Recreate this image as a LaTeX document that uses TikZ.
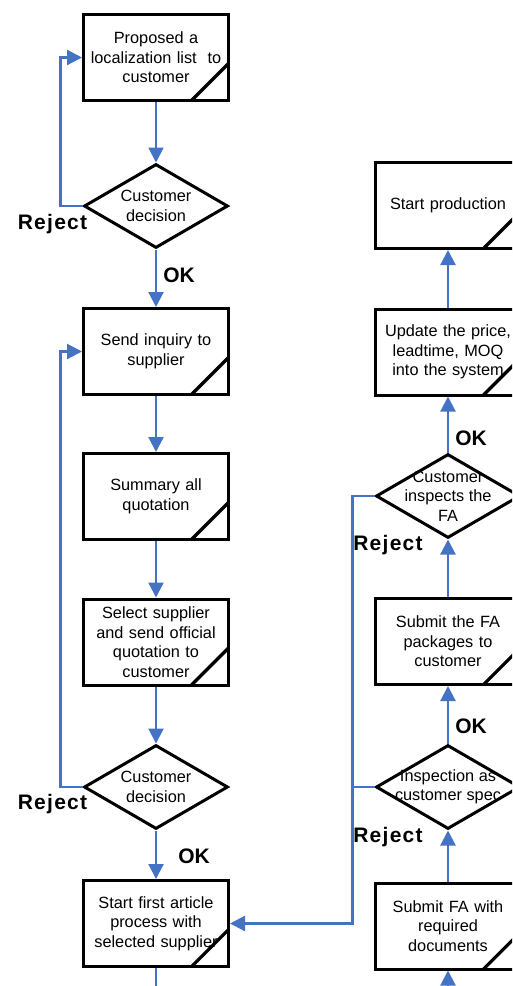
\documentclass[tikz,border=0pt]{standalone}
\usepackage{fontspec}
\setmainfont{Liberation Sans}
\usetikzlibrary{shapes.geometric,arrows.meta}
\definecolor{flowblue}{RGB}{68,114,196}
\begin{document}
\begin{tikzpicture}[x=1pt,y=-1pt,
  font=\fontsize{16.3}{19.5}\selectfont,
  stepbox/.style={draw=black, line width=3pt, fill=white,
    minimum width=145pt, minimum height=86pt, inner sep=2pt,
    text width=140pt, align=center,
    path picture={\draw[line width=3.2pt]
      ([xshift=-37pt]path picture bounding box.south east) --
      ([yshift=37pt]path picture bounding box.south east);}},
  decision/.style={diamond, draw=black, line width=3pt, fill=white,
    minimum width=144pt, minimum height=84pt, inner sep=0pt},
  inside/.style={align=center},
  flow/.style={draw=flowblue, line width=2.2pt, -{Triangle[length=15pt,width=15pt]}},
  flowline/.style={draw=flowblue, line width=2.2pt},
  verdict/.style={font=\fontsize{21}{24}\selectfont\bfseries, anchor=base, inner sep=0pt},
  rejectlabel/.style={verdict, font=\fontsize{21}{24}\selectfont\bfseries\addfontfeature{LetterSpace=6}}]

\useasboundingbox (0,0) rectangle (512,986);
\clip (0,0) rectangle (512,986);

% left column: localization, inquiry and quotation
\node[stepbox] (b1) at (156,57.5) {Proposed a\\localization list\ \ to\\customer};
\node[decision, label={[inside]center:Customer\\decision}] (d1) at (156,206) {};
\node[stepbox] (b2) at (156,351.5) {Send inquiry to\\supplier};
\node[stepbox] (b3) at (156,496.5) {Summary all\\quotation};
\node[stepbox] (b4) at (156,642) {Select supplier\\and send official\\quotation to\\customer};
\node[decision, label={[inside]center:Customer\\decision}] (d2) at (156,787) {};
\node[stepbox] (b5) at (156,923.5) {Start first article\\process with\\selected supplier};

% right column: first article approval up to production
\node[stepbox] (b6) at (448,205.5) {Start production};
\node[stepbox] (b7) at (448,352) {Update the price,\\leadtime, MOQ\\into the system};
\node[decision, label={[inside]center:Customer\\inspects the\\FA}] (d3) at (448,496) {};
\node[stepbox] (b8) at (448,641.5) {Submit the FA\\packages to\\customer};
\node[decision, label={[inside]center:Inspection as\\customer spec}] (d4) at (448,787) {};
\node[stepbox] (b9) at (448,926) {Submit FA with\\required\\documents};

\coordinate (exit) at (156,995);
\coordinate (entry) at (448,995);

% main flow, left column downwards
\draw[flow] (b1.south) -- (d1.north);
\draw[flow] (d1.south) -- (b2.north);
\draw[flow] (b2.south) -- (b3.north);
\draw[flow] (b3.south) -- (b4.north);
\draw[flow] (b4.south) -- (d2.north);
\draw[flow] (d2.south) -- (b5.north);
\draw[flowline] (b5.south) -- (exit);

% main flow, right column upwards
\draw[flow] (entry) -- (b9.south);
\draw[flow] (b9.north) -- (d4.south);
\draw[flow] (d4.north) -- (b8.south);
\draw[flow] (b8.north) -- (d3.south);
\draw[flow] (d3.north) -- (b7.south);
\draw[flow] (b7.north) -- (b6.south);

% reject loops
\draw[flow] (d1.west) -- ++(-22,0) |- (b1.west);
\draw[flow] (d2.west) -- ++(-22,0) |- (b2.west);
\draw[flow] (d3.west) -- ++(-22,0) |- (b5.east);
\draw[flowline] (d4.west) -- ++(-22,0);

% decision outcomes
\node[rejectlabel] (r1) at (52.5,229.5) {Reject};
\node[verdict] (ok1) at (179,282) {OK};
\node[rejectlabel] (r2) at (52.5,809) {Reject};
\node[verdict] (ok2) at (194,863) {OK};
\node[verdict] (ok3) at (471,445) {OK};
\node[rejectlabel] (r3) at (388,550) {Reject};
\node[verdict] (ok4) at (471,733) {OK};
\node[rejectlabel] (r4) at (388,842) {Reject};
\end{tikzpicture}
\end{document}
